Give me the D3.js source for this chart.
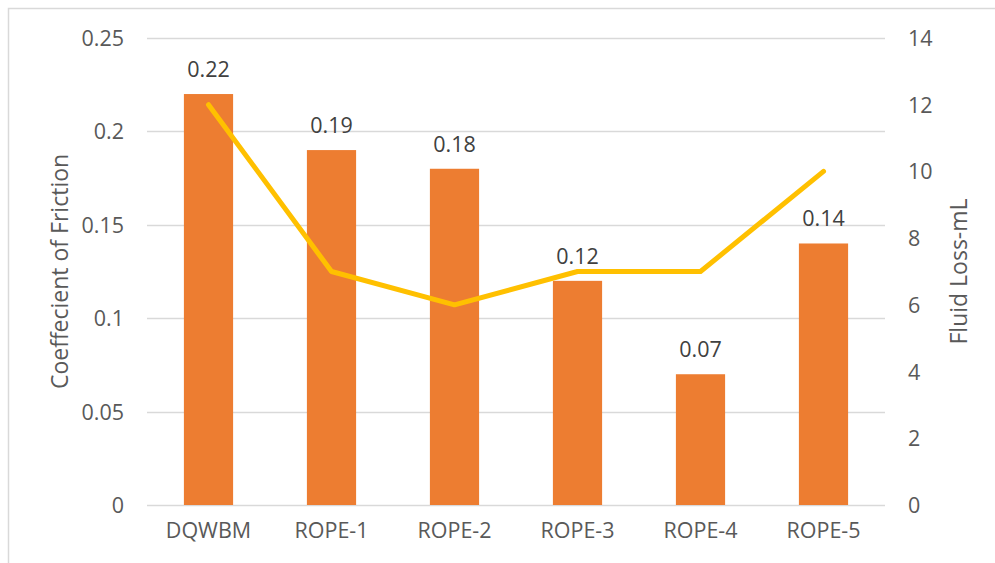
<!DOCTYPE html>
<html>
<head>
<meta charset="utf-8">
<script src="https://cdn.jsdelivr.net/npm/d3@7/dist/d3.min.js"></script>
<style>
  html, body { margin: 0; padding: 0; background: #fff; }
  svg { display: block; font-family: "Open Sans", sans-serif; }
</style>
</head>
<body>
<svg id="chart" width="995" height="563"></svg>
<script>
// Friction coefficient (bars) and fluid loss (line) per mud formulation
const categories = ["DQWBM", "ROPE-1", "ROPE-2", "ROPE-3", "ROPE-4", "ROPE-5"];
const frictionValues = [0.22, 0.19, 0.18, 0.12, 0.07, 0.14];
const fluidLossValues = [12, 7, 6, 7, 7, 10];
const leftTicks = [0, 0.05, 0.1, 0.15, 0.2, 0.25];
const rightTicks = [0, 2, 4, 6, 8, 10, 12, 14];

const svg = d3.select("#chart");
const W = 995, H = 563;
const plot = { left: 147, right: 885, top: 38, bottom: 505 };
const tickFont = 21.5, titleFont = 23;

// outer frame
svg.append("rect")
  .attr("x", 8.5).attr("y", 8.5)
  .attr("width", W).attr("height", H)
  .attr("fill", "none").attr("stroke", "#d9d9d9").attr("stroke-width", 1.5);

const x = d3.scaleBand().domain(categories).range([plot.left, plot.right]).paddingInner(0.6).paddingOuter(0.3);
const xc = d3.scaleBand().domain(categories).range([plot.left, plot.right]);
const yL = d3.scaleLinear().domain([0, 0.25]).range([plot.bottom, plot.top]);
const yR = d3.scaleLinear().domain([0, 14]).range([plot.bottom, plot.top]);

// gridlines
svg.append("g").selectAll("line").data(leftTicks).join("line")
  .attr("x1", plot.left).attr("x2", plot.right)
  .attr("y1", d => Math.round(yL(d)) + 0.5).attr("y2", d => Math.round(yL(d)) + 0.5)
  .attr("stroke", "#d9d9d9").attr("stroke-width", 1.3);

// left axis
const leftAxis = svg.append("g").attr("transform", `translate(${plot.left - 23},0)`)
  .call(d3.axisLeft(yL).tickValues(leftTicks).tickSize(0).tickPadding(0).tickFormat(d => String(d)));
leftAxis.select(".domain").remove();
leftAxis.selectAll("text").attr("fill", "#595959").attr("font-size", tickFont).attr("font-family", "Open Sans").attr("dy", "0.35em");

// right axis
const rightAxis = svg.append("g").attr("transform", `translate(${plot.right + 23},0)`)
  .call(d3.axisRight(yR).tickValues(rightTicks).tickSize(0).tickPadding(0));
rightAxis.select(".domain").remove();
rightAxis.selectAll("text").attr("fill", "#595959").attr("font-size", tickFont).attr("font-family", "Open Sans").attr("dy", "0.35em");

// bottom axis labels
const bottomAxis = svg.append("g").attr("transform", `translate(0,${plot.bottom + 18})`)
  .call(d3.axisBottom(xc).tickSize(0).tickPadding(0));
bottomAxis.select(".domain").remove();
bottomAxis.selectAll("text").attr("fill", "#595959").attr("font-size", tickFont).attr("font-family", "Open Sans").attr("dy", "0.71em");

// bars
svg.append("g").selectAll("rect").data(categories).join("rect")
  .attr("x", d => x(d)).attr("width", x.bandwidth())
  .attr("y", (d, i) => yL(frictionValues[i]))
  .attr("height", (d, i) => yL(0) - yL(frictionValues[i]))
  .attr("fill", "#ED7D31");

// bar value labels
svg.append("g").selectAll("text").data(categories).join("text")
  .attr("x", d => x(d) + x.bandwidth() / 2)
  .attr("y", (d, i) => yL(frictionValues[i]) - 17)
  .attr("text-anchor", "middle")
  .attr("font-size", tickFont).attr("fill", "#404040")
  .text((d, i) => frictionValues[i]);

// fluid loss line
const line = d3.line()
  .x((d, i) => xc(categories[i]) + xc.bandwidth() / 2)
  .y(d => yR(d));
svg.append("path").datum(fluidLossValues)
  .attr("d", line)
  .attr("fill", "none").attr("stroke", "#FFC000")
  .attr("stroke-width", 5).attr("stroke-linecap", "round").attr("stroke-linejoin", "round");

// axis titles
svg.append("text")
  .attr("transform", `translate(68,${(plot.top + plot.bottom) / 2}) rotate(-90)`)
  .attr("text-anchor", "middle").attr("font-size", titleFont).attr("fill", "#595959")
  .text("Coeffecient of Friction");
svg.append("text")
  .attr("transform", `translate(967,${(plot.top + plot.bottom) / 2}) rotate(-90)`)
  .attr("text-anchor", "middle").attr("font-size", titleFont).attr("fill", "#595959")
  .text("Fluid Loss-mL");
</script>
</body>
</html>
